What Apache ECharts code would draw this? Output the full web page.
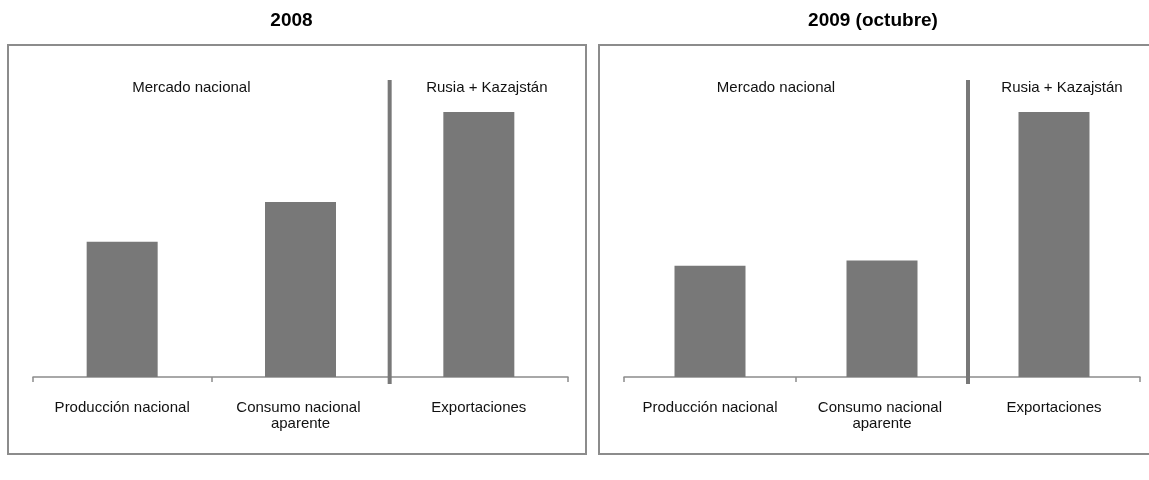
<!DOCTYPE html>
<html>
<head>
<meta charset="utf-8">
<script src="https://cdn.jsdelivr.net/npm/echarts@6/dist/echarts.min.js"></script>
<style>
  html, body { margin: 0; padding: 0; background: #fff; }
  #c { width: 1149px; height: 480px; }
</style>
</head>
<body>
<div id="c"></div>
<script>
// Categories and values (index, exports = 100)
const categories = ['Producción nacional', 'Consumo nacional aparente', 'Exportaciones'];
const panelTitles = ['2008', '2009 (octubre)'];
const groupLabels = ['Mercado nacional', 'Rusia + Kazajstán'];
const values2008 = [51, 66, 100];
const values2009 = [42, 44, 100];

// Layout of the two panels
const FONT = '"Liberation Sans", Arial, sans-serif';
const GRID_TOP = 112, GRID_H = 265, Y_MAX = 100;
const panels = [
  { box: [8, 45, 578, 409], gridLeft: 33, gridWidth: 535, data: values2008, title: panelTitles[0] },
  { box: [599, 45, 600, 409], gridLeft: 624, gridWidth: 516, data: values2009, title: panelTitles[1] }
];

const chart = echarts.init(document.getElementById('c'), null, { renderer: 'canvas' });

const grids = [], xAxes = [], yAxes = [], series = [], graphics = [];
panels.forEach((p, i) => {
  grids.push({ left: p.gridLeft, top: GRID_TOP, width: p.gridWidth, height: GRID_H });
  xAxes.push({
    type: 'category', gridIndex: i, data: categories,
    axisLine: { lineStyle: { color: '#8c8c8c', width: 1.5 } },
    axisTick: { show: true, length: 5, lineStyle: { color: '#8c8c8c', width: 1.5 } },
    axisLabel: {
      color: '#111', fontFamily: FONT, fontSize: 15, lineHeight: 16,
      margin: 23, width: 150, overflow: 'break', interval: 0
    }
  });
  yAxes.push({ type: 'value', gridIndex: i, min: 0, max: Y_MAX, show: false, splitLine: { show: false } });
  series.push({
    type: 'bar', xAxisIndex: i, yAxisIndex: i, data: p.data, barWidth: 71,
    itemStyle: { color: '#787878' }, silent: true
  });

  const [bx, by, bw, bh] = p.box;
  const third = p.gridWidth / 3;
  const baseY = GRID_TOP + GRID_H;
  // panel frame
  graphics.push({
    type: 'rect', shape: { x: bx, y: by, width: bw, height: bh },
    style: { fill: 'none', stroke: '#8c8c8c', lineWidth: 2 }, z: 0
  });
  // panel title
  graphics.push({
    type: 'text', x: p.gridLeft + p.gridWidth / 2 - 9, y: 21,
    style: { text: p.title, font: 'bold 19px ' + FONT, fill: '#000', textAlign: 'center', textVerticalAlign: 'middle' }
  });
  // divider between domestic market and exports
  graphics.push({
    type: 'line', shape: { x1: p.gridLeft + 2 * third, y1: 80, x2: p.gridLeft + 2 * third, y2: baseY + 7 },
    style: { stroke: '#787878', lineWidth: 4 }, z: 10
  });
  // group captions
  graphics.push({
    type: 'text', x: p.gridLeft + third - 20, y: 88,
    style: { text: groupLabels[0], font: '15px ' + FONT, fill: '#111', textAlign: 'center', textVerticalAlign: 'middle' }
  });
  graphics.push({
    type: 'text', x: p.gridLeft + 2.5 * third + 8, y: 88,
    style: { text: groupLabels[1], font: '15px ' + FONT, fill: '#111', textAlign: 'center', textVerticalAlign: 'middle' }
  });
});

chart.setOption({
  animation: false,
  backgroundColor: '#fff',
  grid: grids,
  xAxis: xAxes,
  yAxis: yAxes,
  series: series,
  graphic: graphics
});
</script>
</body>
</html>
